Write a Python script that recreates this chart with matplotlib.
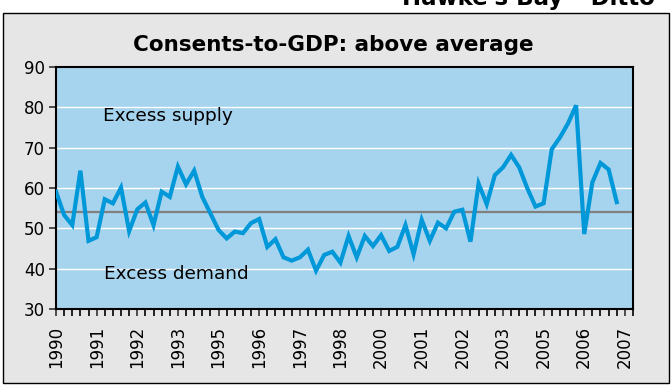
import matplotlib.pyplot as plt
from matplotlib.patches import Rectangle
import matplotlib
import numpy as np

matplotlib.rcParams['font.family'] = 'DejaVu Sans'

# quarterly categories, 1990Q1 .. 2007Q4
years = [str(1990 + q // 4) for q in range(72)]
label_every = 5

consents_gdp = [
    59.1, 53.3, 50.8, 64.3, 46.9, 47.8, 57.2, 56.2, 60.1, 49.3,
    54.7, 56.4, 50.8, 59.1, 57.8, 65.3, 60.9, 64.3, 57.8, 53.7,
    49.6, 47.5, 49.2, 48.8, 51.3, 52.3, 45.4, 47.3, 42.8, 42.0,
    42.8, 44.7, 39.5, 43.4, 44.2, 41.5, 48.1, 42.8, 48.1, 45.6,
    48.3, 44.4, 45.4, 50.8, 43.6, 52.1, 46.9, 51.4, 50.0, 54.1,
    54.6, 46.7, 61.1, 56.0, 63.2, 65.1, 68.2, 65.1, 59.9, 55.4,
    56.2, 69.6, 72.5, 76.0, 80.5, 48.6, 61.4, 66.2, 64.6, 56.5,
]
average = 54.0

fig = plt.figure(figsize=(6.72, 3.85), dpi=100)

# grey chart box behind everything
box = Rectangle((3 / 672, 2 / 385), 666 / 672, 370 / 385,
                transform=fig.transFigure, facecolor='#E6E6E6',
                edgecolor='black', linewidth=1.0, zorder=-10)
fig.patches.append(box)

fig.text(402 / 672, 1 - 5 / 385, "Hawke's Bay \u2013 Ditto", fontsize=16.5,
         fontweight='bold', ha='left', va='baseline')

ax = fig.add_axes([56 / 672, 1 - 309 / 385, 577 / 672, 242 / 385])
ax.set_zorder(1)
ax.set_facecolor('#A6D4EE')

x = np.arange(len(consents_gdp))
for g in [40, 50, 60, 70, 80]:
    ax.axhline(g, color='white', linewidth=1.0, zorder=1)
ax.axhline(average, color='#808080', linewidth=1.6, zorder=2)
ax.plot(x, consents_gdp, color='#0098D8', linewidth=3.0,
        solid_joinstyle='miter', zorder=3)

ax.set_xlim(0, len(years) - 1)
ax.set_ylim(30, 90)
ax.set_yticks(range(30, 91, 10))
ax.set_xticks(range(0, len(years), label_every))
ax.set_xticklabels([years[i] for i in range(0, len(years), label_every)],
                   rotation=90)
ax.set_xticks(range(len(years)), minor=True)
ax.tick_params(axis='both', direction='out', length=5, width=1.2,
               labelsize=12, color='#333333')
ax.tick_params(axis='x', which='both', length=5, width=1.2, pad=7)
ax.tick_params(axis='y', pad=3)
for s in ax.spines.values():
    s.set_linewidth(1.5)
    s.set_color('black')

ax.text(0.082, 0.797, 'Excess supply', transform=ax.transAxes,
        fontsize=13.3, va='center', ha='left')
ax.text(0.084, 0.145, 'Excess demand', transform=ax.transAxes,
        fontsize=13.3, va='center', ha='left')

fig.text(333 / 672, 1 - 45 / 385, 'Consents-to-GDP: above average',
         fontsize=15.5, fontweight='bold', ha='center', va='center')

fig.savefig('out.png', dpi=100)
